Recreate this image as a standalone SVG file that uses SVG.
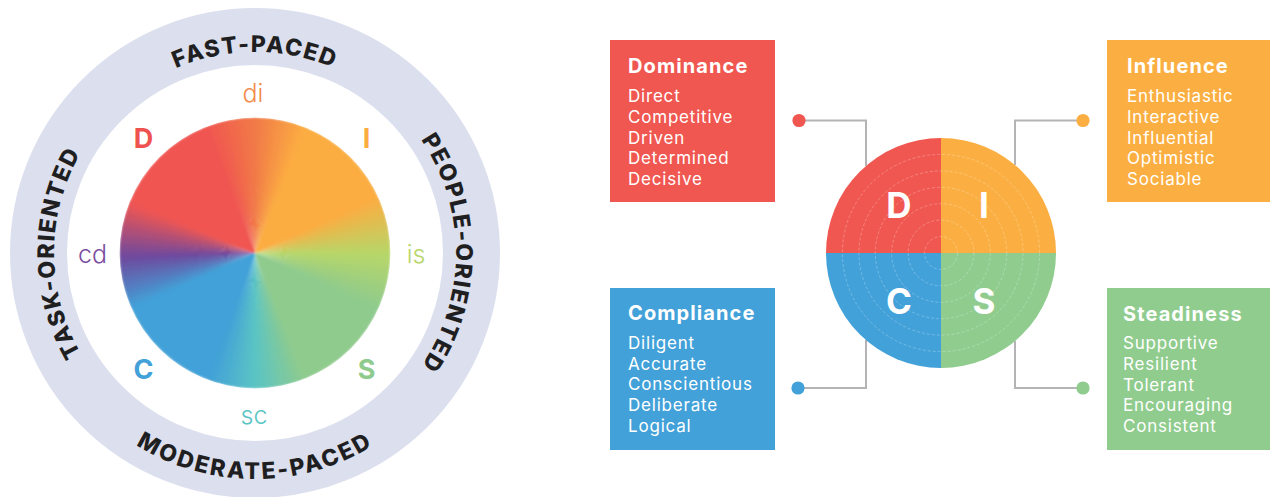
<svg xmlns="http://www.w3.org/2000/svg" xmlns:xlink="http://www.w3.org/1999/xlink" width="1270" height="497" viewBox="0 0 1270 497">
<style>
.ringt { font-family: Inter, "Liberation Sans", sans-serif; font-weight: 800; font-size: 23px; fill: #1f1f22; letter-spacing: 1.6px; }
.ringb { letter-spacing: 2.3px; }
.big { font-family: Inter, "Liberation Sans", sans-serif; font-weight: 700; font-size: 27px; text-anchor: middle; }
.mix { font-family: Inter, "Liberation Sans", sans-serif; font-weight: 300; font-size: 25px; text-anchor: middle; }
.w { fill: none; stroke-width: 135.4; }
.ttl { font-family: Inter, "Liberation Sans", sans-serif; font-weight: 700; font-size: 20px; fill: #ffffff; letter-spacing: 1.1px; }
.itm { font-family: Inter, "Liberation Sans", sans-serif; font-weight: 400; font-size: 17px; fill: #ffffff; letter-spacing: 0.8px; }
.conn { fill: none; stroke: #b4b4b6; stroke-width: 2; }
.rg { fill: none; stroke: #ffffff; stroke-opacity: 0.33; stroke-width: 0.8; stroke-dasharray: 3 2; }
.q { font-family: Inter, "Liberation Sans", sans-serif; font-weight: 700; font-size: 35px; fill: #ffffff; text-anchor: middle; }
</style>
<defs>
<circle id="wg" r="67.7" class="w" pathLength="360" stroke-dasharray="2.6 357.4"/>
<path id="pTop" d="M 54,253 A 201,201 0 0 1 456,253"/>
<path id="pRight" d="M 255,52 A 201,201 0 0 1 255,454"/>
<path id="pLeft" d="M 255,454 A 201,201 0 0 1 255,52"/>
<path id="pBot" d="M 29,253 A 226,226 0 0 0 481,253"/>
<filter id="soft" filterUnits="userSpaceOnUse" x="-145" y="-145" width="290" height="290"><feGaussianBlur stdDeviation="0.9"/></filter>
<clipPath id="pieclip"><circle cx="0" cy="0" r="135.4"/></clipPath>
</defs>
<rect width="1270" height="497" fill="#ffffff"/>

<g id="wheel">
<circle cx="255" cy="253" r="216.5" fill="none" stroke="#dcdfee" stroke-width="57"/>
<text class="ringt"><textPath href="#pTop" xlink:href="#pTop" startOffset="50%" text-anchor="middle">FAST-PACED</textPath></text>
<text class="ringt"><textPath href="#pRight" xlink:href="#pRight" startOffset="50%" text-anchor="middle">PEOPLE-ORIENTED</textPath></text>
<text class="ringt"><textPath href="#pLeft" xlink:href="#pLeft" startOffset="50%" text-anchor="middle">TASK-ORIENTED</textPath></text>
<text class="ringt ringb"><textPath href="#pBot" xlink:href="#pBot" startOffset="50%" text-anchor="middle">MODERATE-PACED</textPath></text>
<g transform="translate(255,253)">
<g id="pie" clip-path="url(#pieclip)">
<g filter="url(#soft)">
<circle r="67.7" class="w" pathLength="360" stroke="#fbad42" stroke-dasharray="46 314" transform="rotate(-69)"/>
<circle r="67.7" class="w" pathLength="360" stroke="#8fcb8d" stroke-dasharray="46 314" transform="rotate(23)"/>
<circle r="67.7" class="w" pathLength="360" stroke="#42a1d8" stroke-dasharray="48 312" transform="rotate(109)"/>
<circle r="67.7" class="w" pathLength="360" stroke="#f05551" stroke-dasharray="48 312" transform="rotate(201)"/>
<use href="#wg" xlink:href="#wg" transform="rotate(248)" stroke="#f05751"/>
<use href="#wg" xlink:href="#wg" transform="rotate(250)" stroke="#f05a50"/>
<use href="#wg" xlink:href="#wg" transform="rotate(252)" stroke="#f05d4f"/>
<use href="#wg" xlink:href="#wg" transform="rotate(254)" stroke="#f0614e"/>
<use href="#wg" xlink:href="#wg" transform="rotate(256)" stroke="#f0644d"/>
<use href="#wg" xlink:href="#wg" transform="rotate(258)" stroke="#f1684c"/>
<use href="#wg" xlink:href="#wg" transform="rotate(260)" stroke="#f16b4b"/>
<use href="#wg" xlink:href="#wg" transform="rotate(262)" stroke="#f16e4a"/>
<use href="#wg" xlink:href="#wg" transform="rotate(264)" stroke="#f17249"/>
<use href="#wg" xlink:href="#wg" transform="rotate(266)" stroke="#f17548"/>
<use href="#wg" xlink:href="#wg" transform="rotate(268)" stroke="#f17848"/>
<use href="#wg" xlink:href="#wg" transform="rotate(-90)" stroke="#f27c47"/>
<use href="#wg" xlink:href="#wg" transform="rotate(-88)" stroke="#f28146"/>
<use href="#wg" xlink:href="#wg" transform="rotate(-86)" stroke="#f38646"/>
<use href="#wg" xlink:href="#wg" transform="rotate(-84)" stroke="#f48a45"/>
<use href="#wg" xlink:href="#wg" transform="rotate(-82)" stroke="#f58f45"/>
<use href="#wg" xlink:href="#wg" transform="rotate(-80)" stroke="#f69444"/>
<use href="#wg" xlink:href="#wg" transform="rotate(-78)" stroke="#f79844"/>
<use href="#wg" xlink:href="#wg" transform="rotate(-76)" stroke="#f89d44"/>
<use href="#wg" xlink:href="#wg" transform="rotate(-74)" stroke="#f9a143"/>
<use href="#wg" xlink:href="#wg" transform="rotate(-72)" stroke="#faa643"/>
<use href="#wg" xlink:href="#wg" transform="rotate(-70)" stroke="#fbab42"/>
<use href="#wg" xlink:href="#wg" transform="rotate(-24)" stroke="#f8af44"/>
<use href="#wg" xlink:href="#wg" transform="rotate(-22)" stroke="#f3b247"/>
<use href="#wg" xlink:href="#wg" transform="rotate(-20)" stroke="#edb64a"/>
<use href="#wg" xlink:href="#wg" transform="rotate(-18)" stroke="#e7b94d"/>
<use href="#wg" xlink:href="#wg" transform="rotate(-16)" stroke="#e2bc50"/>
<use href="#wg" xlink:href="#wg" transform="rotate(-14)" stroke="#dcc053"/>
<use href="#wg" xlink:href="#wg" transform="rotate(-12)" stroke="#d7c357"/>
<use href="#wg" xlink:href="#wg" transform="rotate(-10)" stroke="#d1c75a"/>
<use href="#wg" xlink:href="#wg" transform="rotate(-8)" stroke="#ccca5d"/>
<use href="#wg" xlink:href="#wg" transform="rotate(-6)" stroke="#c6cd60"/>
<use href="#wg" xlink:href="#wg" transform="rotate(-4)" stroke="#c0d163"/>
<use href="#wg" xlink:href="#wg" transform="rotate(-2)" stroke="#bbd466"/>
<use href="#wg" xlink:href="#wg" transform="rotate(0)" stroke="#b6d66a"/>
<use href="#wg" xlink:href="#wg" transform="rotate(2)" stroke="#b3d56d"/>
<use href="#wg" xlink:href="#wg" transform="rotate(4)" stroke="#b0d470"/>
<use href="#wg" xlink:href="#wg" transform="rotate(6)" stroke="#acd373"/>
<use href="#wg" xlink:href="#wg" transform="rotate(8)" stroke="#a9d276"/>
<use href="#wg" xlink:href="#wg" transform="rotate(10)" stroke="#a5d179"/>
<use href="#wg" xlink:href="#wg" transform="rotate(12)" stroke="#a2d07c"/>
<use href="#wg" xlink:href="#wg" transform="rotate(14)" stroke="#9ecf7f"/>
<use href="#wg" xlink:href="#wg" transform="rotate(16)" stroke="#9bce82"/>
<use href="#wg" xlink:href="#wg" transform="rotate(18)" stroke="#98cd85"/>
<use href="#wg" xlink:href="#wg" transform="rotate(20)" stroke="#94cc88"/>
<use href="#wg" xlink:href="#wg" transform="rotate(22)" stroke="#91cc8c"/>
<use href="#wg" xlink:href="#wg" transform="rotate(68)" stroke="#8dcb90"/>
<use href="#wg" xlink:href="#wg" transform="rotate(70)" stroke="#88ca94"/>
<use href="#wg" xlink:href="#wg" transform="rotate(72)" stroke="#83c999"/>
<use href="#wg" xlink:href="#wg" transform="rotate(74)" stroke="#7ec99f"/>
<use href="#wg" xlink:href="#wg" transform="rotate(76)" stroke="#79c8a4"/>
<use href="#wg" xlink:href="#wg" transform="rotate(78)" stroke="#74c8a8"/>
<use href="#wg" xlink:href="#wg" transform="rotate(80)" stroke="#70c7ae"/>
<use href="#wg" xlink:href="#wg" transform="rotate(82)" stroke="#6bc6b3"/>
<use href="#wg" xlink:href="#wg" transform="rotate(84)" stroke="#66c6b8"/>
<use href="#wg" xlink:href="#wg" transform="rotate(86)" stroke="#61c5bd"/>
<use href="#wg" xlink:href="#wg" transform="rotate(88)" stroke="#5cc4c2"/>
<use href="#wg" xlink:href="#wg" transform="rotate(90)" stroke="#59c2c5"/>
<use href="#wg" xlink:href="#wg" transform="rotate(92)" stroke="#56bfc7"/>
<use href="#wg" xlink:href="#wg" transform="rotate(94)" stroke="#54bbc9"/>
<use href="#wg" xlink:href="#wg" transform="rotate(96)" stroke="#52b8cb"/>
<use href="#wg" xlink:href="#wg" transform="rotate(98)" stroke="#4fb4cd"/>
<use href="#wg" xlink:href="#wg" transform="rotate(100)" stroke="#4db1cf"/>
<use href="#wg" xlink:href="#wg" transform="rotate(102)" stroke="#4aadd1"/>
<use href="#wg" xlink:href="#wg" transform="rotate(104)" stroke="#48aad3"/>
<use href="#wg" xlink:href="#wg" transform="rotate(106)" stroke="#46a6d5"/>
<use href="#wg" xlink:href="#wg" transform="rotate(108)" stroke="#43a3d7"/>
<use href="#wg" xlink:href="#wg" transform="rotate(156)" stroke="#449dd5"/>
<use href="#wg" xlink:href="#wg" transform="rotate(158)" stroke="#4895d0"/>
<use href="#wg" xlink:href="#wg" transform="rotate(160)" stroke="#4c8dcb"/>
<use href="#wg" xlink:href="#wg" transform="rotate(162)" stroke="#5085c6"/>
<use href="#wg" xlink:href="#wg" transform="rotate(164)" stroke="#547dc0"/>
<use href="#wg" xlink:href="#wg" transform="rotate(166)" stroke="#5876bb"/>
<use href="#wg" xlink:href="#wg" transform="rotate(168)" stroke="#5c6eb6"/>
<use href="#wg" xlink:href="#wg" transform="rotate(170)" stroke="#6066b0"/>
<use href="#wg" xlink:href="#wg" transform="rotate(172)" stroke="#645eab"/>
<use href="#wg" xlink:href="#wg" transform="rotate(174)" stroke="#6856a6"/>
<use href="#wg" xlink:href="#wg" transform="rotate(176)" stroke="#6c4ea1"/>
<use href="#wg" xlink:href="#wg" transform="rotate(178)" stroke="#734a9b"/>
<use href="#wg" xlink:href="#wg" transform="rotate(180)" stroke="#7e4b94"/>
<use href="#wg" xlink:href="#wg" transform="rotate(182)" stroke="#894c8e"/>
<use href="#wg" xlink:href="#wg" transform="rotate(184)" stroke="#944d88"/>
<use href="#wg" xlink:href="#wg" transform="rotate(186)" stroke="#9f4e81"/>
<use href="#wg" xlink:href="#wg" transform="rotate(188)" stroke="#aa4f7b"/>
<use href="#wg" xlink:href="#wg" transform="rotate(190)" stroke="#b45074"/>
<use href="#wg" xlink:href="#wg" transform="rotate(192)" stroke="#bf516e"/>
<use href="#wg" xlink:href="#wg" transform="rotate(194)" stroke="#ca5268"/>
<use href="#wg" xlink:href="#wg" transform="rotate(196)" stroke="#d55361"/>
<use href="#wg" xlink:href="#wg" transform="rotate(198)" stroke="#e0545b"/>
<use href="#wg" xlink:href="#wg" transform="rotate(200)" stroke="#eb5554"/>
</g>
</g>
</g>
<text class="big" x="143.5" y="148" fill="#ef5350">D</text>
<text class="big" x="366.5" y="148" fill="#fbad42">I</text>
<text class="big" x="143.5" y="379" fill="#42a1d8">C</text>
<text class="big" x="366.5" y="379" fill="#8fcb8d">S</text>
<text class="mix" x="253" y="101.5" fill="#f28b4c">di</text>
<text class="mix" x="92.5" y="262.5" fill="#7b4ea0">cd</text>
<text class="mix" x="416" y="263" fill="#b8d66a">is</text>
<text class="mix" x="254" y="424" fill="#5bc4c4">sc</text>
</g>

<g id="connectors">
<polyline class="conn" points="799,120.5 866,120.5 866,166"/>
<polyline class="conn" points="1083,120.5 1015,120.5 1015,165"/>
<polyline class="conn" points="798,388 866,388 866,340"/>
<polyline class="conn" points="1083,388 1015,388 1015,341"/>
<circle cx="799" cy="120.5" r="6.6" fill="#f05751"/>
<circle cx="1083" cy="120.5" r="6.6" fill="#fbaf42"/>
<circle cx="798" cy="388" r="6.6" fill="#42a1d9"/>
<circle cx="1083" cy="388" r="6.6" fill="#8fcc8e"/>
</g>

<g id="disc">
<path d="M941,253 L826,253 A115,115 0 0 1 941,138 Z" fill="#f05751"/>
<path d="M941,253 L941,138 A115,115 0 0 1 1056,253 Z" fill="#fbaf42"/>
<path d="M941,253 L1056,253 A115,115 0 0 1 941,368 Z" fill="#8fcc8e"/>
<path d="M941,253 L941,368 A115,115 0 0 1 826,253 Z" fill="#42a1d9"/>
<circle class="rg" cx="941" cy="253" r="16.4"/>
<circle class="rg" cx="941" cy="253" r="32.9"/>
<circle class="rg" cx="941" cy="253" r="49.3"/>
<circle class="rg" cx="941" cy="253" r="65.7"/>
<circle class="rg" cx="941" cy="253" r="82.1"/>
<circle class="rg" cx="941" cy="253" r="98.6"/>
<text class="q" x="899" y="218">D</text>
<text class="q" x="984" y="218">I</text>
<text class="q" x="899" y="314">C</text>
<text class="q" x="984" y="314">S</text>
</g>

<g id="dominance">
<rect x="610" y="40" width="165" height="162" fill="#f05751"/>
<text class="ttl" x="628" y="73">Dominance</text>
<text class="itm"><tspan x="628" y="102">Direct</tspan><tspan x="628" dy="20.8">Competitive</tspan><tspan x="628" dy="20.8">Driven</tspan><tspan x="628" dy="20.8">Determined</tspan><tspan x="628" dy="20.8">Decisive</tspan></text>
</g>

<g id="influence">
<rect x="1107" y="40" width="163" height="162" fill="#fbaf42"/>
<text class="ttl" x="1127" y="73">Influence</text>
<text class="itm"><tspan x="1127" y="102">Enthusiastic</tspan><tspan x="1127" dy="20.8">Interactive</tspan><tspan x="1127" dy="20.8">Influential</tspan><tspan x="1127" dy="20.8">Optimistic</tspan><tspan x="1127" dy="20.8">Sociable</tspan></text>
</g>

<g id="compliance">
<rect x="610" y="288" width="165" height="162" fill="#42a1d9"/>
<text class="ttl" x="628" y="320">Compliance</text>
<text class="itm"><tspan x="628" y="348.7">Diligent</tspan><tspan x="628" dy="20.8">Accurate</tspan><tspan x="628" dy="20.8">Conscientious</tspan><tspan x="628" dy="20.8">Deliberate</tspan><tspan x="628" dy="20.8">Logical</tspan></text>
</g>

<g id="steadiness">
<rect x="1107" y="288" width="163" height="162" fill="#8fcc8e"/>
<text class="ttl" x="1123" y="320.5">Steadiness</text>
<text class="itm"><tspan x="1123" y="349">Supportive</tspan><tspan x="1123" dy="20.8">Resilient</tspan><tspan x="1123" dy="20.8">Tolerant</tspan><tspan x="1123" dy="20.8">Encouraging</tspan><tspan x="1123" dy="20.8">Consistent</tspan></text>
</g>
</svg>
